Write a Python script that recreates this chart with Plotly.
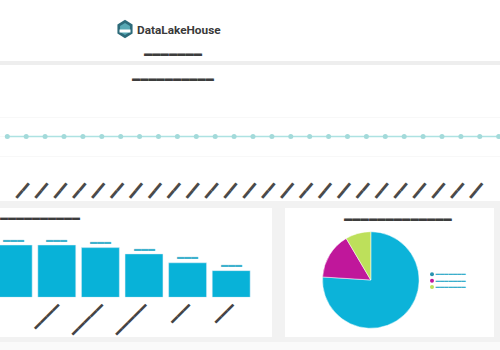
import plotly.graph_objects as go
import math

W, H = 500, 350
BAR = "▬"
FONT = "Noto Sans CJK SC"

# ---------------- data ----------------
line_labels = [BAR * 2] * 27
line_values = [2, 2, 2, 2, 2, 2, 2, 2, 2, 2, 2, 2, 2, 2, 2, 2, 2, 2, 2, 2, 2, 2, 2, 2, 2, 2, 2]

bar_labels = [BAR * 4, BAR * 4, BAR * 5, BAR * 5, BAR * 3, BAR * 3]
bar_values = [100, 100, 95, 83, 66, 51]
bar_value_text = [BAR * 3] * 6

pie_labels = [BAR * 7, BAR * 7 + " ", BAR * 7 + "  "]
pie_values = [76, 15.5, 8.5]
pie_colors = ["#0cb3d9", "#c0179b", "#bde05b"]

# ---------------- helpers ----------------
def px(x):
    return x / W

def py(y):
    return 1 - y / H

fig = go.Figure()

# line chart (top panel)
fig.add_trace(go.Scatter(
    x=list(range(len(line_values))), y=line_values,
    mode="lines+markers",
    line=dict(color="#ade2e2", width=1.5),
    marker=dict(color="#a3dada", size=5),
    xaxis="x", yaxis="y", showlegend=False, hoverinfo="skip",
))

# bar chart (bottom-left panel)
fig.add_trace(go.Bar(
    x=list(range(len(bar_values))), y=bar_values,
    marker=dict(color="#08b2d8"),
    xaxis="x2", yaxis="y2", showlegend=False, hoverinfo="skip",
))

# pie chart (bottom-right panel)
fig.add_trace(go.Pie(
    labels=pie_labels, values=pie_values, sort=False,
    direction="clockwise", rotation=0,
    marker=dict(colors=pie_colors, line=dict(color="white", width=0.5)),
    textinfo="none", showlegend=False, hoverinfo="skip",
    domain=dict(x=[px(322.3), px(419.3)], y=[py(328.3), py(231.7)]),
))

# custom compact legend for the pie
fig.add_trace(go.Scatter(
    x=[0, 0, 0], y=[2, 1, 0],
    mode="markers+text",
    marker=dict(color=["#2a93b0", pie_colors[1], pie_colors[2]], size=4),
    text=pie_labels, textposition="middle right",
    textfont=dict(family=FONT, size=4.3, color="#3aaecb"),
    xaxis="x3", yaxis="y3", showlegend=False, hoverinfo="skip", cliponaxis=False,
))

# ---------------- background panels ----------------
shapes = []
def rect(x0, y0, x1, y1, color):
    shapes.append(dict(type="rect", xref="paper", yref="paper",
                       x0=px(x0), x1=px(x1), y0=py(y1), y1=py(y0),
                       fillcolor=color, line=dict(width=0), layer="below"))

rect(0, 0, 500, 61, "white")
rect(0, 61, 500, 65, "#eeeeee")
rect(0, 65, 500, 201, "white")
rect(0, 208, 272, 337, "white")
rect(285, 208, 494, 337, "white")
rect(0, 342, 500, 350, "#fafafa")

# logo hexagon
hx, hy, r = 125, 29, 9.2
pts = []
for k in range(6):
    a = math.radians(90 + 60 * k)
    pts.append((hx + r * 0.95 * math.cos(a), hy - r * math.sin(a)))
path = "M " + " L ".join(f"{px(x):.5f},{py(y):.5f}" for x, y in pts) + " Z"
shapes.append(dict(type="path", xref="paper", yref="paper", path=path,
                   fillcolor="#2d6b7a", line=dict(width=0)))
pts2 = []
for k in range(6):
    a = math.radians(90 + 60 * k)
    pts2.append((hx + r * 0.62 * math.cos(a), hy - r * 0.65 * math.sin(a)))
path2 = "M " + " L ".join(f"{px(x):.5f},{py(y):.5f}" for x, y in pts2) + " Z"
shapes.append(dict(type="path", xref="paper", yref="paper", path=path2,
                   fillcolor="#58a9b5", line=dict(width=0)))
shapes.append(dict(type="rect", xref="paper", yref="paper",
                   x0=px(119.5), x1=px(130.5), y0=py(32.5), y1=py(29.5),
                   fillcolor="white", line=dict(width=0)))

# ---------------- annotations ----------------
annotations = []
def dashes(x, y, n, size, color="#3d3d3d"):
    annotations.append(dict(text=BAR * n, x=px(x), y=py(y - 0.2 * size), xref="paper", yref="paper",
                            xanchor="left", yanchor="middle", showarrow=False,
                            font=dict(family=FONT, size=size, color=color)))

annotations.append(dict(text="<b>DataLakeHouse</b>", x=px(134.5), y=py(29.5), xref="paper", yref="paper",
                        xanchor="left", yanchor="middle", showarrow=False,
                        font=dict(family="Roboto", size=11.8, color="#3a3a3a")))
dashes(141.5, 53.6, 7, 8.3)
dashes(129.5, 78.4, 10, 8.2)
dashes(-2, 218.0, 10, 8.0)
dashes(341.5, 218.4, 13, 8.3)

# value labels above bars
vsize = 7
for i, (v, t) in enumerate(zip(bar_values, bar_value_text)):
    annotations.append(dict(text=t, x=i, y=v, xref="x2", yref="y2",
                            xanchor="center", yanchor="middle", yshift=5 + 0.2 * vsize,
                            showarrow=False, font=dict(family=FONT, size=vsize, color="#3fb2cd")))

fig.update_layout(
    width=W, height=H,
    margin=dict(l=0, r=0, t=0, b=0),
    paper_bgcolor="#f2f2f2",
    plot_bgcolor="rgba(0,0,0,0)",
    shapes=shapes, annotations=annotations,
    bargap=0.13,
    xaxis=dict(domain=[0, 1], range=[-0.386, 26.07],
               tickmode="array", tickvals=list(range(len(line_labels))), ticktext=line_labels,
               tickangle=-50, tickfont=dict(family=FONT, size=9.5, color="#4a4a4a"),
               showgrid=False, zeroline=False, showline=False, ticks=""),
    yaxis=dict(domain=[py(175.5), py(97.5)], range=[0, 4], dtick=1,
               showticklabels=False, gridcolor="#f8f8f8", zeroline=False, showline=False),
    xaxis2=dict(domain=[0, px(272)], range=[-0.303, 5.936], anchor="y2",
                tickmode="array", tickvals=list(range(len(bar_labels))), ticktext=bar_labels,
                tickangle=-45, tickfont=dict(family=FONT, size=8.5, color="#444444"),
                showgrid=False, zeroline=False, showline=False, ticks=""),
    yaxis2=dict(domain=[py(297.3), py(230)], range=[0, 128.7], anchor="x2",
                showticklabels=False, showgrid=False, zeroline=False, showline=False),
    xaxis3=dict(domain=[px(427), px(477)], range=[-0.5, 4.5], anchor="y3", visible=False),
    yaxis3=dict(domain=[py(293), py(268)], range=[-0.945, 2.992], anchor="x3", visible=False),
)

fig.write_html("out.html")
